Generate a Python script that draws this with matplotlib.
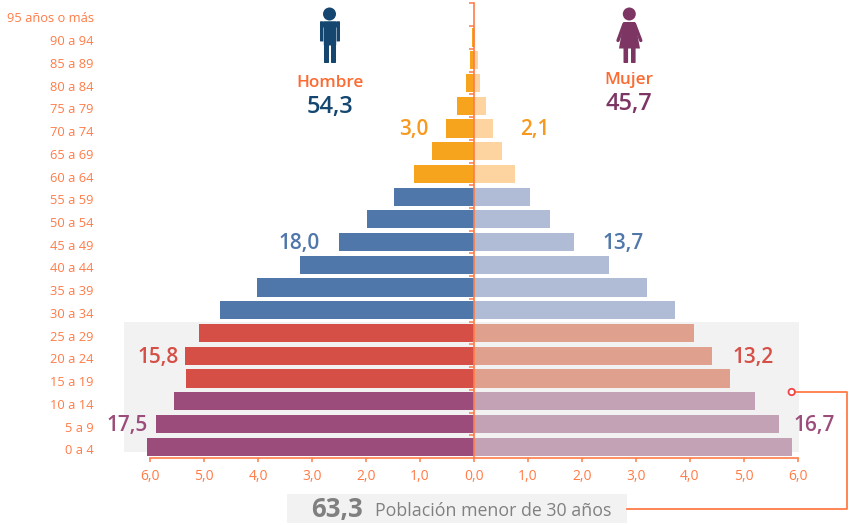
import matplotlib
matplotlib.use("Agg")
import matplotlib.pyplot as plt
from matplotlib.patches import Rectangle, Circle, FancyBboxPatch, Polygon

plt.rcParams['font.family'] = ['Open Sans', 'DejaVu Sans']

edades = ["0 a 4", "5 a 9", "10 a 14", "15 a 19", "20 a 24", "25 a 29", "30 a 34",
          "35 a 39", "40 a 44", "45 a 49", "50 a 54", "55 a 59", "60 a 64", "65 a 69",
          "70 a 74", "75 a 79", "80 a 84", "85 a 89", "90 a 94", "95 años o más"]
hombres = [6.06, 5.89, 5.56, 5.34, 5.36, 5.09, 4.71, 4.02, 3.23, 2.51,
           1.98, 1.49, 1.12, 0.78, 0.52, 0.31, 0.15, 0.07, 0.03, 0.005]
mujeres = [5.89, 5.65, 5.20, 4.75, 4.41, 4.08, 3.73, 3.21, 2.51, 1.86,
           1.41, 1.04, 0.76, 0.51, 0.35, 0.22, 0.12, 0.07, 0.02, 0.005]
grupos = [3, 3, 6, 8]
colores_h = ["#9c4c7a", "#d64f47", "#4f77aa", "#f6a41e"]
colores_m = ["#c3a2b5", "#dfa08d", "#b0bbd6", "#fdd4a0"]
xticks = [-6, -5, -4, -3, -2, -1, 0, 1, 2, 3, 4, 5, 6]

NARANJA = "#ff7b47"
W, H = 855, 526

fig = plt.figure(figsize=(W / 100, H / 100), dpi=100)

# capa de fondo en pixeles, para la banda, los iconos y los textos sueltos
pix = fig.add_axes([0, 0, 1, 1], zorder=0)
pix.set_xlim(0, W)
pix.set_ylim(H, 0)
pix.axis("off")

ax = fig.add_axes([150.3 / W, 1 - 458 / H, (797.7 - 150.3) / W, (458 - 3.5) / H], zorder=1)
ax.patch.set_alpha(0)

col_h = [c for c, n in zip(colores_h, grupos) for _ in range(n)]
col_m = [c for c, n in zip(colores_m, grupos) for _ in range(n)]
filas = list(range(len(edades)))
ax.barh(filas, [-v for v in hombres], height=0.8, color=col_h, zorder=2, clip_on=False)
ax.barh(filas, mujeres, height=0.8, color=col_m, zorder=2, clip_on=False)

ax.set_xlim(-6, 6)
ax.set_ylim(-0.5, 19.5)
for s in ["top", "right"]:
    ax.spines[s].set_visible(False)
ax.spines["left"].set_position(("data", 0))
ax.spines["left"].set_color(NARANJA)
ax.spines["left"].set_linewidth(1.2)
ax.spines["left"].set_zorder(5)
ax.spines["bottom"].set_color(NARANJA)
ax.spines["bottom"].set_linewidth(1.2)
ax.set_xticks(xticks)
ax.set_xticklabels([("%.1f" % abs(t)).replace(".", ",") for t in xticks])
ax.tick_params(axis="x", colors=NARANJA, length=3.2, width=1.1, labelsize=10, pad=5)
ax.set_yticks([i + 0.5 for i in filas])
ax.set_yticklabels([])
ax.tick_params(axis="y", color=NARANJA, length=3.5, width=1.1)
for i, e in zip(filas, edades):
    ax.text(-0.087, i - 0.18, e, transform=ax.get_yaxis_transform(), ha="right", va="center",
            color=NARANJA, fontsize=9.3)

# banda gris de menores de 30
pix.add_patch(Rectangle((124, 322), 675, 130, color="#f2f2f2", lw=0))
# caja inferior y conector
pix.add_patch(Rectangle((287, 494), 340, 28.5, color="#f2f2f2", lw=0))
pix.plot([796, 847, 847, 627], [392, 392, 509, 509], color=NARANJA, lw=1.3)
pix.add_patch(Circle((791.7, 392), 3.2, fc="white", ec="#f0454a", lw=1.3, zorder=4))

# icono hombre
AZUL = "#14466f"
pix.add_patch(Circle((329.5, 14), 6.5, color=AZUL, lw=0))
for x0, y0, w, h in [(320, 21.5, 20, 6), (320, 21.5, 3.4, 20), (336.6, 21.5, 3.4, 20),
                     (323.8, 21.5, 12.4, 24), (324, 40, 5, 23), (331, 40, 5, 23)]:
    pix.add_patch(FancyBboxPatch((x0 + 0.7, y0 + 0.7), w - 1.4, h - 1.4,
                                 boxstyle="round,pad=0.7", color=AZUL, lw=0))

# icono mujer
VINO = "#7d3563"
pix.add_patch(Circle((629.3, 14), 6.5, color=VINO, lw=0))
pix.add_patch(Polygon([(623.5, 22), (635, 22), (640, 48.5), (619, 48.5)], color=VINO, lw=0))
pix.plot([624, 618], [24, 40.5], color=VINO, lw=2.4, solid_capstyle="round")
pix.plot([634.5, 640.8], [24, 40.5], color=VINO, lw=2.4, solid_capstyle="round")
for x0 in (623.5, 631):
    pix.add_patch(FancyBboxPatch((x0 + 0.7, 47), 3.2, 15.3, boxstyle="round,pad=0.7", color=VINO, lw=0))

# textos
pix.text(330, 83, "Hombre", color="#fb6b32", fontsize=12.3, fontweight="semibold", ha="center", va="center")
pix.text(330, 107, "54,3", color=AZUL, fontsize=17, fontweight="semibold", ha="center", va="center")
pix.text(629, 80, "Mujer", color="#fb6b32", fontsize=12.3, fontweight="semibold", ha="center", va="center")
pix.text(629, 104, "45,7", color=VINO, fontsize=17, fontweight="semibold", ha="center", va="center")

for txt, x, y, c in [("3,0", 414, 130, "#f7991f"), ("2,1", 535, 130, "#f7991f"),
                     ("18,0", 299, 244, "#4f77aa"), ("13,7", 623, 244, "#4f77aa"),
                     ("15,8", 158, 358, "#d64f47"), ("13,2", 753, 358, "#d64f47"),
                     ("17,5", 127, 426, "#9c4c7a"), ("16,7", 814, 426, "#9c4c7a")]:
    pix.text(x, y, txt, color=c, fontsize=15, fontweight="semibold", ha="center", va="center")

pix.text(337, 509, "63,3", color="#808080", fontsize=18.5, fontweight="bold", ha="center", va="center")
pix.text(375, 511, "Población menor de 30 años", color="#808080", fontsize=12.8, ha="left", va="center")

fig.savefig("out.png", dpi=100)
